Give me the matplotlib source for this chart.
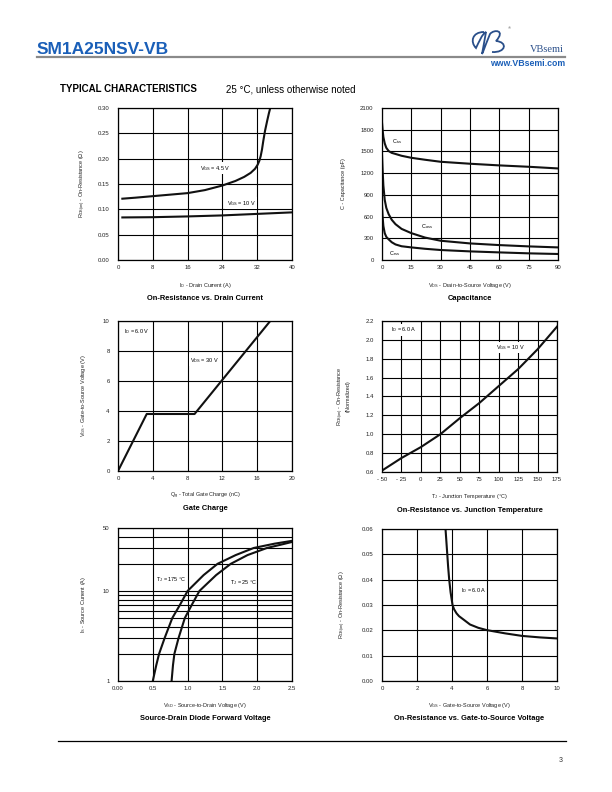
import numpy as np
import matplotlib
matplotlib.use("Agg")
import matplotlib.pyplot as plt
from matplotlib.path import Path
from matplotlib.patches import PathPatch
from matplotlib.ticker import FixedLocator, NullFormatter

plt.rcParams['font.family'] = ['Liberation Sans', 'DejaVu Sans']
plt.rcParams['mathtext.fontset'] = 'custom'
plt.rcParams['mathtext.rm'] = 'Liberation Sans'

# ---- data ----
# On-resistance vs drain current
id_45 = [1, 4, 8, 12, 16, 20, 24, 27, 29, 30.5, 31.5, 32.1, 32.5, 32.8, 33.1, 33.4, 33.8, 34.3, 34.7, 35.0]
r_45 = [0.121, 0.123, 0.126, 0.129, 0.132, 0.138, 0.147, 0.156, 0.164, 0.172, 0.180, 0.188,
        0.196, 0.205, 0.218, 0.235, 0.255, 0.275, 0.290, 0.300]
id_10 = [1, 8, 16, 24, 32, 40]
r_10 = [0.084, 0.0845, 0.086, 0.088, 0.091, 0.094]

# Capacitance
vds = [0, 0.3, 0.7, 1.4, 2.2, 3.4, 5, 6.9, 10, 15, 22, 30, 45, 60, 75, 90]
ciss = [1900, 1800, 1700, 1610, 1550, 1505, 1480, 1465, 1440, 1412, 1385, 1357, 1330, 1307, 1288, 1265]
coss = [1450, 1250, 1030, 830, 720, 633, 555, 495, 430, 371, 310, 266, 229, 206, 188, 174]
crss = [750, 600, 470, 370, 320, 285, 245, 215, 190, 174, 155, 138, 119, 105, 92, 83]

# Gate charge
qg = [0, 3.3, 8.8, 17.5]
vgs_qg = [0, 3.8, 3.8, 10.0]

# On-resistance vs junction temperature
tj = [-50, -25, 0, 25, 50, 75, 100, 125, 150, 175]
r_norm = [0.615, 0.748, 0.864, 1.0, 1.17, 1.33, 1.51, 1.69, 1.90, 2.14]

# Source-drain diode forward voltage
vsd_175 = [0.5, 0.55, 0.59, 0.67, 0.78, 0.89, 1.0, 1.23, 1.43, 1.69, 1.95, 2.25, 2.5]
is_175 = [1, 1.5, 2, 3, 5, 7, 10, 15, 20, 25, 30, 33.5, 36]
vsd_25 = [0.77, 0.79, 0.81, 0.87, 0.96, 1.06, 1.17, 1.41, 1.62, 1.86, 2.14, 2.33, 2.5]
is_25 = [1, 1.5, 2, 3, 5, 7, 10, 15, 20, 25, 30, 32.5, 35]

# On-resistance vs gate-to-source voltage
vgs_r = [3.63, 3.68, 3.73, 3.78, 3.84, 3.92, 4.03, 4.12, 4.26, 4.4, 4.65, 5.03, 5.5, 5.98, 7.04, 8.0, 9.04, 10.0]
r_vgs = [0.060, 0.055, 0.050, 0.045, 0.040, 0.035, 0.030, 0.0283, 0.0267, 0.0256, 0.0243, 0.0223,
         0.0210, 0.0201, 0.0188, 0.0178, 0.0172, 0.0168]

W, H = 612, 792
fig = plt.figure(figsize=(W / 100, H / 100), dpi=100)

TICK = 4.3
LAB = 4.0
TITLE = 5.4
LW = 1.5
BLUE = '#1a5fb8'


def ftext(x, y, s, **kw):
    fig.text(x / W, 1 - y / H, s, **kw)


def px_axes(l, t, r, b):
    ax = fig.add_axes([l / W, 1 - b / H, (r - l) / W, (b - t) / H])
    ax.tick_params(length=0, labelsize=TICK, colors='#222222', pad=6)
    ax.tick_params(axis='x', pad=3.5)
    ax.grid(True, color='black', lw=0.8)
    ax.set_axisbelow(True)
    for s in ax.spines.values():
        s.set_linewidth(0.9)
    return ax


def labels(l, t, r, b, xl, yl, title, yoff=36):
    cx = (l + r) / 2
    ftext(cx, b + 25, xl, fontsize=LAB, ha='center', va='center', color='#222222')
    ftext(cx, b + 38, title, fontsize=TITLE, ha='center', va='center', fontweight='bold')
    ftext(l - yoff, (t + b) / 2, yl, fontsize=LAB, ha='center', va='center',
          rotation=90, color='#222222', multialignment='center', linespacing=1.0)


box = dict(facecolor='white', edgecolor='none', pad=1.0)
sub = lambda a, b: a + r'$\mathregular{_{' + b + '}}$'

# ---- panel 1: on-resistance vs drain current ----
ax = px_axes(118, 108, 292, 260)
ax.plot(id_45, r_45, color='#111111', lw=LW)
ax.plot(id_10, r_10, color='#111111', lw=LW)
ax.set_xlim(0, 40)
ax.set_ylim(0, 0.30)
ax.set_xticks(range(0, 41, 8))
ax.set_yticks(np.arange(0, 0.31, 0.05))
ax.set_yticklabels(['%.2f' % v for v in np.arange(0, 0.31, 0.05)])
ax.text(18.8, 0.181, sub('V', 'GS') + ' = 4.5 V', fontsize=LAB, va='center', bbox=box)
ax.text(25.0, 0.112, sub('V', 'GS') + ' = 10 V', fontsize=LAB, va='center', bbox=box)
labels(118, 108, 292, 260, sub('I', 'D') + ' - Drain Current (A)',
       sub('R', 'DS(on)') + ' - On-Resistance (Ω)', 'On-Resistance vs. Drain Current', 35)

# ---- panel 2: capacitance ----
ax = px_axes(382, 108, 558, 260)
ax.plot(vds, ciss, color='#111111', lw=LW)
ax.plot(vds, coss, color='#111111', lw=LW)
ax.plot(vds, crss, color='#111111', lw=LW)
ax.set_xlim(0, 90)
ax.set_ylim(0, 2100)
ax.set_xticks(range(0, 91, 15))
ax.set_yticks(range(0, 2101, 300))
ax.text(5.1, 1641, sub('C', 'iss'), fontsize=LAB, va='center')
ax.text(19.7, 458, sub('C', 'oss'), fontsize=LAB, va='center')
ax.text(3.8, 92, sub('C', 'rss'), fontsize=LAB, va='center')
labels(382, 108, 558, 260, sub('V', 'DS') + ' - Drain-to-Source Voltage (V)',
       'C - Capacitance (pF)', 'Capacitance', 39)

# ---- panel 3: gate charge ----
ax = px_axes(118, 321, 292, 471)
ax.plot(qg, vgs_qg, color='#111111', lw=LW)
ax.set_xlim(0, 20)
ax.set_ylim(0, 10)
ax.set_xticks(range(0, 21, 4))
ax.set_yticks(range(0, 11, 2))
ax.text(0.7, 9.27, sub('I', 'D') + ' = 6.0 V', fontsize=LAB, va='center', bbox=box)
ax.text(8.3, 7.38, sub('V', 'DS') + ' = 30 V', fontsize=LAB, va='center', bbox=box)
labels(118, 321, 292, 471, sub('Q', 'g') + ' - Total Gate Charge (nC)',
       sub('V', 'GS') + ' - Gate-to-Source Voltage (V)', 'Gate Charge', 35)

# ---- panel 4: on-resistance vs junction temperature ----
ax = px_axes(382, 321, 557, 472)
ax.plot(tj, r_norm, color='#111111', lw=LW)
ax.set_xlim(-50, 175)
ax.set_ylim(0.6, 2.2)
ax.set_xticks(range(-50, 176, 25))
ax.set_xticklabels(['- 50', '- 25'] + [str(v) for v in range(0, 176, 25)])
ax.set_yticks(np.arange(0.6, 2.21, 0.2))
ax.set_yticklabels(['%.1f' % v for v in np.arange(0.6, 2.21, 0.2)])
ax.text(-38, 2.105, sub('I', 'D') + ' = 6.0 A', fontsize=LAB, va='center', bbox=box)
ax.text(97, 1.92, sub('V', 'GS') + ' = 10 V', fontsize=LAB, va='center', bbox=box)
labels(382, 321, 557, 472, sub('T', 'J') + ' - Junction Temperature (°C)',
       sub('R', 'DS(on)') + ' - On-Resistance\n(Normalized)',
       'On-Resistance vs. Junction Temperature', 39)

# ---- panel 5: source-drain diode forward voltage ----
ax = px_axes(118, 528, 292, 681)
ax.set_yscale('log')
ax.plot(vsd_175, is_175, color='#111111', lw=LW)
ax.plot(vsd_25, is_25, color='#111111', lw=LW)
ax.set_xlim(0, 2.5)
ax.set_ylim(1, 50)
ax.set_xticks([0, 0.5, 1.0, 1.5, 2.0, 2.5])
ax.set_xticklabels(['0.00', '0.5', '1.0', '1.5', '2.0', '2.5'])
ax.set_yticks([1, 10, 50])
ax.set_yticklabels(['1', '10', '50'])
ax.yaxis.set_minor_locator(FixedLocator([2, 3, 4, 5, 6, 7, 8, 9, 20, 30, 40]))
ax.yaxis.set_minor_formatter(NullFormatter())
ax.tick_params(which='minor', length=0)
ax.grid(True, which='both', color='black', lw=0.8)
ax.text(0.55, 13.5, sub('T', 'J') + ' = 175 °C', fontsize=LAB, va='center')
ax.text(1.61, 12.5, sub('T', 'J') + ' = 25 °C', fontsize=LAB, va='center')
labels(118, 528, 292, 681, sub('V', 'SD') + ' - Source-to-Drain Voltage (V)',
       sub('I', 'S') + ' - Source Current (A)', 'Source-Drain Diode Forward Voltage', 35)

# ---- panel 6: on-resistance vs gate-to-source voltage ----
ax = px_axes(382, 529, 557, 681)
ax.plot(vgs_r, r_vgs, color='#111111', lw=LW)
ax.set_xlim(0, 10)
ax.set_ylim(0, 0.06)
ax.set_xticks(range(0, 11, 2))
ax.set_yticks(np.arange(0, 0.061, 0.01))
ax.set_yticklabels(['%.2f' % v for v in np.arange(0, 0.061, 0.01)])
ax.text(4.5, 0.0357, sub('I', 'D') + ' = 6.0 A', fontsize=LAB, va='center')
labels(382, 529, 557, 681, sub('V', 'GS') + ' - Gate-to-Source Voltage (V)',
       sub('R', 'DS(on)') + ' - On-Resistance (Ω)',
       'On-Resistance vs. Gate-to-Source Voltage', 39)

# ---- page header / footer ----
ftext(37, 50, 'SM1A25NSV-VB', fontsize=12.5, fontweight='bold', color=BLUE, va='center',
      family=['Liberation Sans Narrow', 'Liberation Sans'])
fig.add_artist(plt.Line2D([37 / W, 565 / W], [1 - 57 / H, 1 - 57 / H], color='#8a8a8a', lw=1.6))
ftext(565, 64, 'www.VBsemi.com', fontsize=6.3, fontweight='bold', color=BLUE, ha='right', va='center')
ftext(564, 49, 'VBsemi', fontsize=7.5, color='#2a4f8a', ha='right', va='center',
      family=['Liberation Serif', 'DejaVu Serif'])
ftext(508, 28, '®', fontsize=3, color='#555555', va='center')

# logo swoosh (drawn in a tiny axes, pixel-like coords)
lax = fig.add_axes([470 / W, 1 - 56 / H, 42 / W, 28 / H])
lax.set_xlim(0, 42)
lax.set_ylim(0, 28)
lax.axis('off')
verts = [(14, 24), (2, 24), (0, 14), (6, 8), (9, 14), (12, 22), (16, 24),
         (14, 14), (13, 6), (12, 2), (13, 4), (16, 12), (20, 22), (24, 27), (36, 26), (26, 15),
         (38, 14), (36, 3), (22, 4)]
codes = [Path.MOVETO, Path.CURVE4, Path.CURVE4, Path.CURVE4, Path.CURVE4, Path.CURVE4, Path.CURVE4,
         Path.CURVE4, Path.CURVE4, Path.CURVE4, Path.LINETO, Path.LINETO, Path.LINETO,
         Path.CURVE4, Path.CURVE4, Path.CURVE4, Path.CURVE4, Path.CURVE4, Path.CURVE4]
lax.add_patch(PathPatch(Path(verts, codes), facecolor='none', edgecolor='#2a4f8a', lw=1.3))

ftext(60, 89, 'TYPICAL CHARACTERISTICS', fontsize=7, fontweight='bold', va='center')
ftext(226, 89, '25 °C, unless otherwise noted', fontsize=7, va='center')

fig.add_artist(plt.Line2D([58 / W, 566 / W], [1 - 741 / H, 1 - 741 / H], color='black', lw=0.9))
ftext(563, 760, '3', fontsize=5, color='#333333', ha='right', va='center')

fig.savefig('out.png', dpi=100)
